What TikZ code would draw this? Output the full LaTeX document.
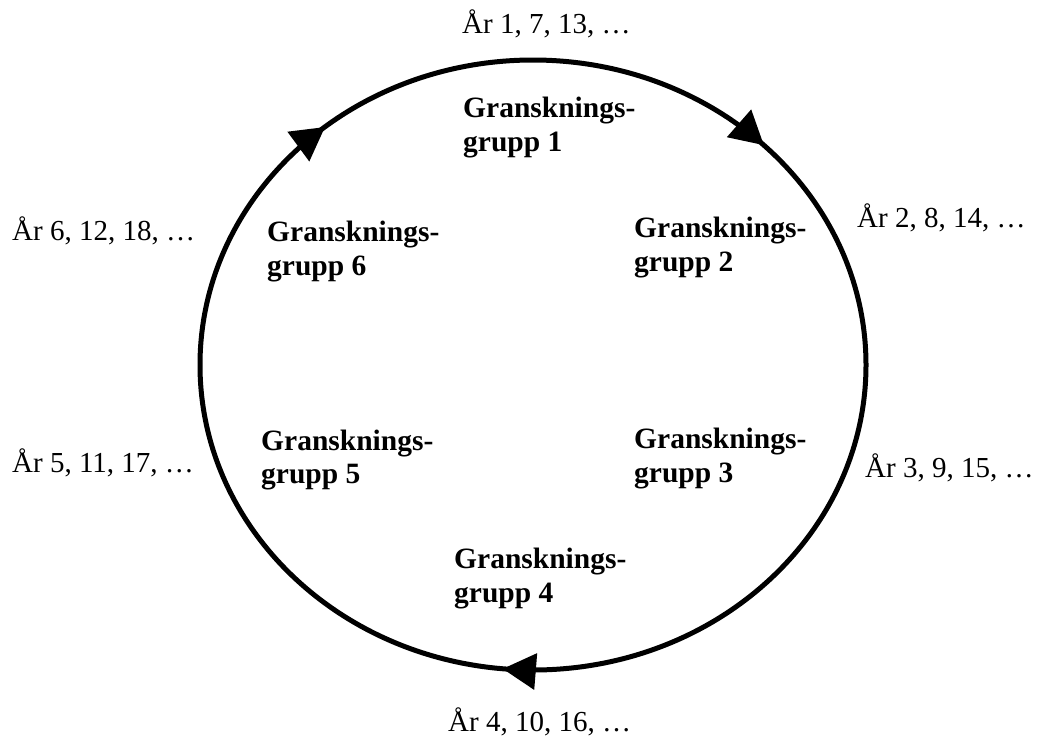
\documentclass[tikz,border=0pt]{standalone}
\usepackage{fontspec}
\setmainfont{Liberation Serif}
\begin{document}
\begin{tikzpicture}[x=1pt,y=-1pt,
  yeartext/.style={anchor=base west,inner sep=0pt,font=\fontsize{29}{34}\selectfont},
  grouptext/.style={anchor=base west,inner sep=0pt,font=\fontsize{29.5}{34}\selectfont\bfseries},
  cycleline/.style={line width=5pt,black},
  headtip/.style={fill=black}]
\useasboundingbox (0,0) rectangle (1038,737);
% cycle
\draw[cycleline] (533,365) ellipse [x radius=333pt, y radius=305pt];
% arrowheads (clockwise)
\coordinate (tipA) at (763.8,145.1);
\coordinate (tipB) at (502.8,668.8);
\coordinate (tipC) at (324.9,127.1);
\fill[headtip] (tipA) -- (726.8,137.2) -- (751.2,109.4) -- cycle;
\fill[headtip] (tipB) -- (537.2,653.1) -- (534.2,689.9) -- cycle;
\fill[headtip] (tipC) -- (309.3,161.5) -- (287.4,131.7) -- cycle;
% year labels
\node[yeartext] (y1) at (462,33) {År 1, 7, 13, …};
\node[yeartext] (y2) at (857,227) {År 2, 8, 14, …};
\node[yeartext] (y3) at (865,477) {År 3, 9, 15, …};
\node[yeartext] (y4) at (448,731) {År 4, 10, 16, …};
\node[yeartext] (y5) at (12,472) {År 5, 11, 17, …};
\node[yeartext] (y6) at (12,240) {År 6, 12, 18, …};
% group labels
\node[grouptext] (g1a) at (463,117) {Gransknings-};
\node[grouptext] (g1b) at (463,151) {grupp 1};
\node[grouptext] (g2a) at (634,237) {Gransknings-};
\node[grouptext] (g2b) at (634,271) {grupp 2};
\node[grouptext] (g3a) at (634,448) {Gransknings-};
\node[grouptext] (g3b) at (634,482) {grupp 3};
\node[grouptext] (g4a) at (454,568) {Gransknings-};
\node[grouptext] (g4b) at (454,602) {grupp 4};
\node[grouptext] (g5a) at (261,450) {Gransknings-};
\node[grouptext] (g5b) at (261,483) {grupp 5};
\node[grouptext] (g6a) at (267,241) {Gransknings-};
\node[grouptext] (g6b) at (267,275) {grupp 6};
\end{tikzpicture}
\end{document}
